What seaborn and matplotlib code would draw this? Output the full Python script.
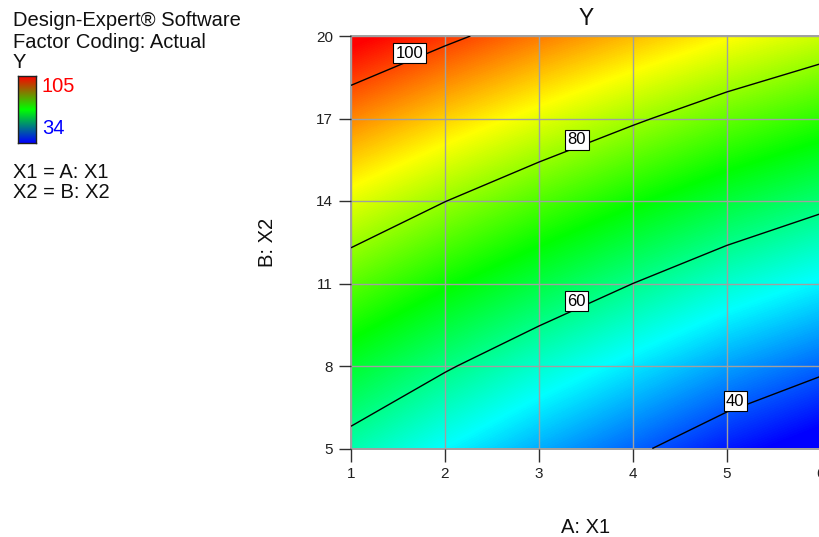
import numpy as np
import pandas as pd
import seaborn as sns
import matplotlib
matplotlib.use("Agg")
import matplotlib.pyplot as plt
from matplotlib.colors import LinearSegmentedColormap

sns.set_theme(style="white")
plt.rcParams['font.family'] = ['Liberation Sans', 'DejaVu Sans']

# ---- data ----
x_levels = [1, 2, 3, 4, 5, 6]          # A: X1
y_levels = [5, 8, 11, 14, 17, 20]      # B: X2
# response Y at grid nodes, rows = y_levels, cols = x_levels
y_row_05 = [57.6, 51.7, 46.2, 41.1, 35.8, 31.6]
y_row_08 = [66.5, 60.7, 55.3, 50.3, 45.3, 41.2]
y_row_11 = [75.8, 70.2, 65.0, 60.0, 55.2, 51.2]
y_row_14 = [85.5, 80.1, 75.0, 70.2, 65.6, 61.6]
y_row_17 = [95.7, 90.5, 85.6, 80.9, 76.4, 72.5]
y_row_20 = [106.4, 101.3, 96.5, 92.0, 87.6, 83.8]
contour_levels = [40, 60, 80, 100]
label_x = [5.085, 3.40, 3.40, 1.62]     # where each contour label sits (A value)
label_y = [6.5, 10.1, 16.0, 19.1]
y_min, y_max = 34, 105
x_ticks = [1, 2, 3, 4, 5, 6]
y_ticks = [5, 8, 11, 14, 17, 20]

Z = np.array([y_row_05, y_row_08, y_row_11, y_row_14, y_row_17, y_row_20])
df = pd.DataFrame(Z, index=y_levels, columns=x_levels)

rainbow = LinearSegmentedColormap.from_list(
    "de", ["#0000ff", "#00ffff", "#00ff00", "#ffff00", "#ff0000"])
legend_cmap = LinearSegmentedColormap.from_list(
    "leg", ["#0000ff", "#00ff00", "#ff0000"])

W, H = 820, 537
fig = plt.figure(figsize=(W / 100, H / 100), dpi=100)
fig.patch.set_facecolor("white")

left = 351 / W
right = 820.7 / W
top = 1 - 36 / H
bottom = 1 - 448.5 / H
ax = fig.add_axes([left, bottom, right - left, top - bottom])

dx = 0.5
dy = 1.5
ax.imshow(df.values, origin="lower", cmap=rainbow, vmin=y_min, vmax=y_max,
          extent=[x_levels[0] - dx, x_levels[-1] + dx,
                  y_levels[0] - dy, y_levels[-1] + dy],
          interpolation="bilinear", interpolation_stage="data",
          aspect="auto", zorder=0)

X, Yg = np.meshgrid(df.columns.values, df.index.values)
cs = ax.contour(X, Yg, df.values, levels=contour_levels, colors="black",
                linewidths=1.0, zorder=3)
texts = ax.clabel(cs, inline=False, fontsize=12,
                  manual=list(zip(label_x, label_y)), fmt="%d")
for t in texts:
    t.set_rotation(0)
    t.set_color("black")
    t.set_zorder(5)
    t.set_verticalalignment("bottom")
    t.set_bbox(dict(facecolor="white", edgecolor="black", linewidth=0.8,
                    boxstyle="square,pad=0.15"))

ax.set_xlim(x_levels[0], x_levels[-1])
ax.set_ylim(y_levels[0], y_levels[-1])
ax.set_xticks(x_ticks)
ax.set_yticks(y_ticks)
ax.set_xticklabels([str(v) for v in x_ticks], fontsize=11)
ax.set_yticklabels([str(v) for v in y_ticks], fontsize=11)
ax.grid(True, color="#a0a0a0", linewidth=1.0, zorder=2)
ax.set_axisbelow(False)
for s in ["top", "left", "bottom"]:
    ax.spines[s].set_color("#909090")
    ax.spines[s].set_linewidth(1.2)
ax.spines["right"].set_visible(False)
ax.tick_params(axis="both", which="major", direction="out", length=9,
               width=1.0, color="#303030", labelcolor="#202020",
               bottom=True, left=True, pad=4)

ax.set_title("Y", fontsize=16.5, pad=8, color="#101010")
ax.set_xlabel("A: X1", fontsize=14.5, labelpad=27, color="#101010")
ax.set_ylabel("B: X2", fontsize=14.5, labelpad=28, color="#101010")

# ---- left info panel ----
fs = 14.5
fig.text(13 / W, 1 - 21 / H, "Design-Expert® Software", fontsize=fs,
         va="center", ha="left", color="#101010")
fig.text(13 / W, 1 - 43 / H, "Factor Coding: Actual", fontsize=fs,
         va="center", ha="left", color="#101010")
fig.text(13 / W, 1 - 63 / H, "Y", fontsize=fs, va="center", ha="left",
         color="#101010")
cax = fig.add_axes([18 / W, 1 - 143 / H, 18 / W, 67 / H])
grad = np.linspace(0, 1, 256).reshape(-1, 1)
cax.imshow(grad, origin="lower", cmap=legend_cmap, aspect="auto")
cax.set_xticks([])
cax.set_yticks([])
for s in cax.spines.values():
    s.set_color("#202020")
    s.set_linewidth(1.0)
fig.text(42 / W, 1 - 87 / H, str(y_max), fontsize=fs, va="center",
         ha="left", color="#ff0000")
fig.text(42 / W, 1 - 128 / H, str(y_min), fontsize=fs, va="center",
         ha="left", color="#0000ff")
fig.text(13 / W, 1 - 172 / H, "X1 = A: X1", fontsize=fs, va="center",
         ha="left", color="#101010")
fig.text(13 / W, 1 - 193 / H, "X2 = B: X2", fontsize=fs, va="center",
         ha="left", color="#101010")

fig.savefig("out.png", dpi=100, facecolor="white")
